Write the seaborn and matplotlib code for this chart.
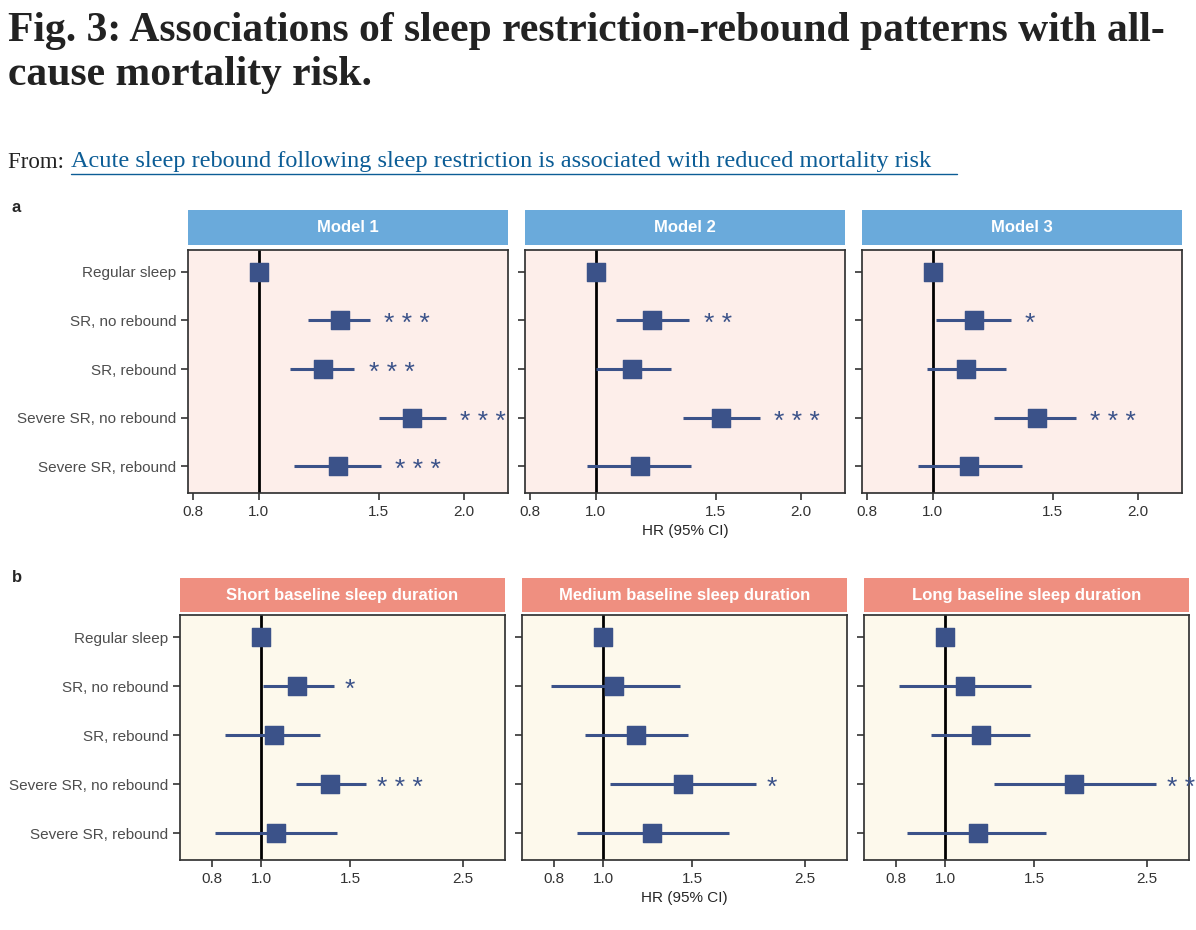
import numpy as np
import pandas as pd
import matplotlib.pyplot as plt
import seaborn as sns
from matplotlib.patches import Rectangle

groups = ["Regular sleep", "SR, no rebound", "SR, rebound", "Severe SR, no rebound", "Severe SR, rebound"]

models_a = ["Model 1", "Model 2", "Model 3"]
hr_a = [[1.0, 1.315, 1.24, 1.68, 1.305],
        [1.0, 1.21, 1.13, 1.525, 1.16],
        [1.0, 1.15, 1.12, 1.42, 1.13]]
lo_a = [[1.0, 1.18, 1.11, 1.50, 1.125],
        [1.0, 1.07, 1.00, 1.34, 0.97],
        [1.0, 1.01, 0.98, 1.23, 0.95]]
hi_a = [[1.0, 1.455, 1.38, 1.88, 1.51],
        [1.0, 1.37, 1.29, 1.74, 1.38],
        [1.0, 1.30, 1.28, 1.62, 1.35]]
stars_a = [["", "***", "***", "***", "***"],
           ["", "**", "", "***", ""],
           ["", "*", "", "***", ""]]

strata_b = ["Short baseline sleep duration", "Medium baseline sleep duration", "Long baseline sleep duration"]
hr_b = [[1.0, 1.18, 1.06, 1.37, 1.07],
        [1.0, 1.05, 1.16, 1.44, 1.25],
        [1.0, 1.095, 1.18, 1.80, 1.16]]
lo_b = [[1.0, 1.01, 0.85, 1.17, 0.81],
        [1.0, 0.79, 0.92, 1.03, 0.89],
        [1.0, 0.81, 0.94, 1.25, 0.84]]
hi_b = [[1.0, 1.39, 1.31, 1.61, 1.41],
        [1.0, 1.42, 1.47, 2.00, 1.77],
        [1.0, 1.48, 1.47, 2.61, 1.58]]
stars_b = [["", "*", "", "***", ""],
           ["", "", "", "*", ""],
           ["", "", "", "**", ""]]

W, H = 1196, 930
POINT = "#3b5289"


def ax_px(fig, x0, y0, x1, y1):
    return fig.add_axes([x0 / W, 1 - y1 / H, (x1 - x0) / W, (y1 - y0) / H])


def draw_panel(fig, box, strip_box, title, strip_col, bg, hr, lo, hi, stars, xlim, ticks, ticklabels, ylabels, xlabel):
    ax = ax_px(fig, *box)
    ax.set_facecolor(bg)
    df = pd.DataFrame({"group": groups, "hr": hr, "lo": lo, "hi": hi, "y": np.arange(len(groups))})
    ax.hlines(df["y"], df["lo"], df["hi"], color=POINT, lw=2.2, zorder=2)
    sns.scatterplot(data=df, x="hr", y="y", marker="s", s=170, color=POINT, edgecolor=POINT,
                    ax=ax, zorder=3, legend=False)
    ax.axvline(1.0, color="black", lw=2, zorder=1)
    for yy, h, s in zip(df["y"], df["hi"], stars):
        if s:
            ax.text(h * 1.05, yy + 0.08, " ".join(s), color=POINT, fontsize=19, va="center", ha="left",
                    clip_on=False)
    ax.set_xscale("log")
    ax.set_xlim(*xlim)
    ax.set_xticks(ticks)
    ax.set_xticklabels(ticklabels)
    ax.minorticks_off()
    ax.set_ylim(4.55, -0.45)
    ax.set_yticks(df["y"])
    ax.set_yticklabels(groups if ylabels else [])
    ax.set_xlabel(xlabel, fontsize=11)
    ax.set_ylabel("")
    ax.tick_params(bottom=True, left=True, labelsize=11, colors="#333333", length=5, width=1.2)
    ax.tick_params(axis="y", labelcolor="#4d4d4d")
    for sp in ax.spines.values():
        sp.set_color("#333333")
    ax.grid(False)
    sax = ax_px(fig, *strip_box)
    sax.set_axis_off()
    sax.add_patch(Rectangle((0, 0), 1, 1, color=strip_col, transform=sax.transAxes))
    sax.text(0.5, 0.5, title, color="white", fontweight="bold", fontsize=12, ha="center", va="center")
    return ax


sns.set_theme(style="white")
plt.rcParams["font.family"] = ["Liberation Sans", "DejaVu Sans"]
fig = plt.figure(figsize=(W / 100, H / 100), dpi=100)

fig.text(8 / W, 1 - 12 / H, "Fig. 3: Associations of sleep restriction-rebound patterns with all-\ncause mortality risk.",
         fontsize=30, fontweight="bold", family="Liberation Serif", va="top", ha="left", color="#222222",
         linespacing=1.2)
fig.text(8 / W, 1 - 162 / H, "From: ", fontsize=16.5, family="Liberation Serif", va="center", color="#222222")
fig.text(71 / W, 1 - 162 / H, "Acute sleep rebound following sleep restriction is associated with reduced mortality risk",
         fontsize=17.5, family="Liberation Serif", va="center", color="#0c5d96")
fig.add_artist(plt.Line2D([71 / W, 957 / W], [1 - 174 / H, 1 - 174 / H], color="#0c5d96", lw=1))
fig.text(12 / W, 1 - 208 / H, "a", fontsize=12, fontweight="bold", va="center")
fig.text(12 / W, 1 - 577 / H, "b", fontsize=12, fontweight="bold", va="center")

xa = [(188, 508), (525, 845), (862, 1182)]
for i in range(3):
    x0, x1 = xa[i]
    draw_panel(fig, (x0, 250, x1, 493), (x0, 210, x1, 245), models_a[i], "#6aaadb", "#fdeeea",
               hr_a[i], lo_a[i], hi_a[i], stars_a[i], (0.787, 2.32), [0.8, 1.0, 1.5, 2.0],
               ["0.8", "1.0", "1.5", "2.0"], i == 0, "HR (95% CI)" if i == 1 else "")

xb = [(180, 505), (522, 847), (864, 1189)]
for i in range(3):
    x0, x1 = xb[i]
    draw_panel(fig, (x0, 615, x1, 860), (x0, 578, x1, 612), strata_b[i], "#ef8f80", "#fdf9ec",
               hr_b[i], lo_b[i], hi_b[i], stars_b[i], (0.692, 3.03), [0.8, 1.0, 1.5, 2.5],
               ["0.8", "1.0", "1.5", "2.5"], i == 0, "HR (95% CI)" if i == 1 else "")

fig.savefig("out.png", dpi=100)
